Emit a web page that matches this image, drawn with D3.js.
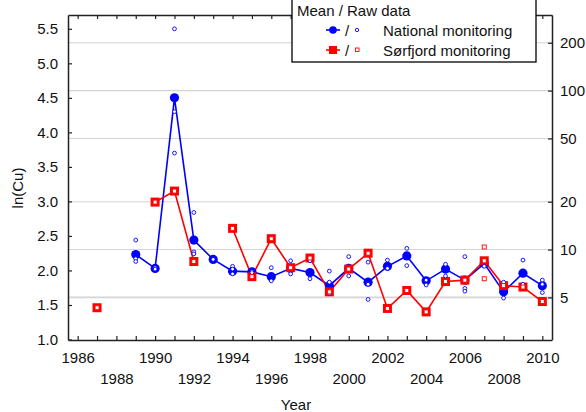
<!DOCTYPE html>
<html><head><meta charset="utf-8">
<script src="https://cdn.jsdelivr.net/npm/d3@7"></script>
<style>
html,body{margin:0;padding:0;background:#fff;}
svg{display:block;font-family:"Liberation Sans",Arial,sans-serif;}
</style></head>
<body>
<svg id="chart" width="586" height="412"></svg>
<script>
// ---- data ----
const nationalYears = [1989,1990,1991,1992,1993,1994,1995,1996,1997,1998,1999,2000,2001,2002,2003,2004,2005,2006,2007,2008,2009,2010];
const nationalMeans = [2.23,2.03,4.50,2.44,2.16,1.99,1.98,1.91,2.03,1.97,1.78,2.03,1.83,2.06,2.21,1.85,2.02,1.86,2.10,1.69,1.96,1.78];
const sorfjordYears = [1987,1988,1989,1990,1991,1992,1993,1994,1995,1996,1997,1998,1999,2000,2001,2002,2003,2004,2005,2006,2007,2008,2009,2010];
const sorfjordMeans = [1.46,null,null,2.99,3.15,2.13,null,2.61,1.91,2.46,2.04,2.18,1.69,2.02,2.25,1.45,1.71,1.40,1.84,1.86,2.14,1.78,1.76,1.55];
const nationalRaw = [
  [1989,2.44],[1989,2.17],[1989,2.13],[1990,2.04],[1990,2.02],
  [1991,5.50],[1991,4.30],[1991,3.70],[1992,2.84],[1992,2.27],[1992,2.24],
  [1993,2.16],[1994,2.06],[1994,2.02],[1994,1.95],[1995,1.99],[1995,1.97],
  [1996,2.04],[1996,1.85],[1997,2.14],[1997,1.95],[1998,2.14],[1998,1.88],
  [1999,1.99],[1999,1.83],[1999,1.67],[2000,2.20],[2000,1.92],
  [2001,2.12],[2001,1.80],[2001,1.58],[2002,2.15],[2002,2.03],
  [2003,2.32],[2003,2.07],[2004,1.86],[2004,1.79],[2005,2.09],[2005,1.92],
  [2006,2.20],[2006,1.74],[2006,1.70],[2007,2.14],[2007,2.06],
  [2008,1.83],[2008,1.60],[2009,2.15],[2009,1.80],[2010,1.86],[2010,1.80],[2010,1.68]
];
const sorfjordRawExtra = [[2007,2.34],[2007,1.88]];
const leftTicks = [1.0,1.5,2.0,2.5,3.0,3.5,4.0,4.5,5.0,5.5];
const rightTicks = [5,10,20,50,100,200];
const yearTicks = d3.range(1986, 2011);
const yearLabels = d3.range(1986, 2011, 2);

// ---- layout ----
const svg = d3.select("#chart");
const L = 68, R = 552, T = 15, B = 340;
const x = d3.scaleLinear().domain([1985.5, 2010.5]).range([L, R]);
const y = d3.scaleLinear().domain([1.0, 5.7]).range([339.5, T]);
const BLUE = "#0000ff", RED = "#ff0000";
const FONT = "15px";

// gridlines at right-axis (log) ticks
svg.append("g").selectAll("line").data(rightTicks).join("line")
  .attr("x1", L).attr("x2", R)
  .attr("y1", d => y(Math.log(d))).attr("y2", d => y(Math.log(d)))
  .attr("stroke", "#d4d4d4").attr("stroke-width", d => d === 5 ? 1.8 : 1.1);

// lines
const blueData = nationalYears.map((yr, i) => ({yr, v: nationalMeans[i]}));
const redData = sorfjordYears.map((yr, i) => ({yr, v: sorfjordMeans[i]}));
const line = d3.line().defined(d => d.v != null).x(d => x(d.yr)).y(d => y(d.v));
svg.append("path").datum(blueData).attr("d", line)
  .attr("fill", "none").attr("stroke", BLUE).attr("stroke-width", 1.6);
svg.append("path").datum(redData).attr("d", line)
  .attr("fill", "none").attr("stroke", RED).attr("stroke-width", 1.6);

// means
svg.append("g").selectAll("circle").data(blueData).join("circle")
  .attr("cx", d => x(d.yr)).attr("cy", d => y(d.v)).attr("r", 4.6).attr("fill", BLUE);
const redPts = redData.filter(d => d.v != null);
svg.append("g").selectAll("rect").data(redPts).join("rect")
  .attr("x", d => x(d.yr) - 4.5).attr("y", d => y(d.v) - 4.5)
  .attr("width", 9).attr("height", 9).attr("fill", RED);

// raw data
svg.append("g").selectAll("circle").data(nationalRaw).join("circle")
  .attr("cx", d => x(d[0])).attr("cy", d => y(d[1])).attr("r", 1.9)
  .attr("fill", "#fff").attr("stroke", BLUE).attr("stroke-width", 0.9);
const redRaw = redPts.map(d => [d.yr, d.v]).concat(sorfjordRawExtra);
svg.append("g").selectAll("rect").data(redRaw).join("rect")
  .attr("x", d => x(d[0]) - 2).attr("y", d => y(d[1]) - 2)
  .attr("width", 4).attr("height", 4)
  .attr("fill", "#fff").attr("stroke", RED).attr("stroke-width", 0.9);

// axes
function styleAxis(g) {
  g.select(".domain").attr("stroke", "#222").attr("stroke-width", 1.5);
  g.selectAll(".tick line").attr("stroke", "#222").attr("stroke-width", 1.2);
  g.selectAll("text").attr("font-size", FONT).attr("fill", "#111")
    .attr("font-family", '"Liberation Sans",Arial,sans-serif');
}
svg.append("g").attr("transform", `translate(${L},0)`)
  .call(d3.axisLeft(y).tickValues(leftTicks).tickFormat(d3.format(".1f")).tickSize(-4).tickSizeOuter(0).tickPadding(10))
  .call(styleAxis);
svg.append("g").attr("transform", `translate(${R},0)`)
  .call(d3.axisRight(y).tickValues(rightTicks.map(v => Math.log(v)))
    .tickFormat(d => Math.round(Math.exp(d))).tickSize(-4).tickSizeOuter(0).tickPadding(8))
  .call(styleAxis);
svg.append("g").attr("transform", `translate(0,${T})`)
  .call(d3.axisTop(x).tickValues(yearTicks).tickFormat("").tickSize(-4).tickSizeOuter(0))
  .call(styleAxis);
const xb = svg.append("g").attr("transform", `translate(0,${B})`)
  .call(d3.axisBottom(x).tickValues(yearTicks).tickFormat("").tickSize(-4).tickSizeOuter(0))
  .call(styleAxis);
const xl = svg.append("g").attr("transform", `translate(0,${B})`)
  .call(d3.axisBottom(x).tickValues(yearLabels).tickFormat(d3.format("d")).tickSize(0).tickPadding(0))
  .call(styleAxis);
xl.select(".domain").remove();
xl.selectAll(".tick text").attr("dy", null)
  .attr("y", (d, i) => i % 2 === 0 ? 23 : 44);

// axis titles
svg.append("text").attr("x", (L + R) / 2 - 14).attr("y", 410).attr("text-anchor", "middle")
  .attr("font-size", FONT).attr("fill", "#111").text("Year");
svg.append("text").attr("transform", "translate(23,188) rotate(-90)").attr("text-anchor", "middle")
  .attr("font-size", FONT).attr("fill", "#111").text("ln(Cu)");

// legend
const lg = svg.append("g");
lg.append("rect").attr("x", 292).attr("y", -1).attr("width", 244).attr("height", 63)
  .attr("fill", "#fff").attr("stroke", "#000").attr("stroke-width", 1.3);
lg.append("text").attr("x", 297).attr("y", 16).attr("font-size", FONT).attr("fill", "#111").text("Mean / Raw data");
const rows = [{c: BLUE, label: "National monitoring", shape: "circle", yy: 30},
              {c: RED, label: "Sørfjord monitoring", shape: "square", yy: 50}];
rows.forEach(r => {
  lg.append("line").attr("x1", 326).attr("x2", 340).attr("y1", r.yy).attr("y2", r.yy)
    .attr("stroke", r.c).attr("stroke-width", 1.6);
  if (r.shape === "circle") {
    lg.append("circle").attr("cx", 333).attr("cy", r.yy).attr("r", 3.8).attr("fill", r.c);
    lg.append("circle").attr("cx", 357).attr("cy", r.yy).attr("r", 1.7)
      .attr("fill", "#fff").attr("stroke", r.c).attr("stroke-width", 0.9);
  } else {
    lg.append("rect").attr("x", 329).attr("y", r.yy - 4).attr("width", 8).attr("height", 8).attr("fill", r.c);
    lg.append("rect").attr("x", 355.5).attr("y", r.yy - 2).attr("width", 3.5).attr("height", 3.5)
      .attr("fill", "#fff").attr("stroke", r.c).attr("stroke-width", 0.9);
  }
  lg.append("text").attr("x", 345).attr("y", r.yy + 5.5).attr("font-size", FONT).attr("fill", "#111").text("/");
  lg.append("text").attr("x", 383).attr("y", r.yy + 6).attr("font-size", FONT).attr("fill", "#111").text(r.label);
});
</script>
</body></html>
